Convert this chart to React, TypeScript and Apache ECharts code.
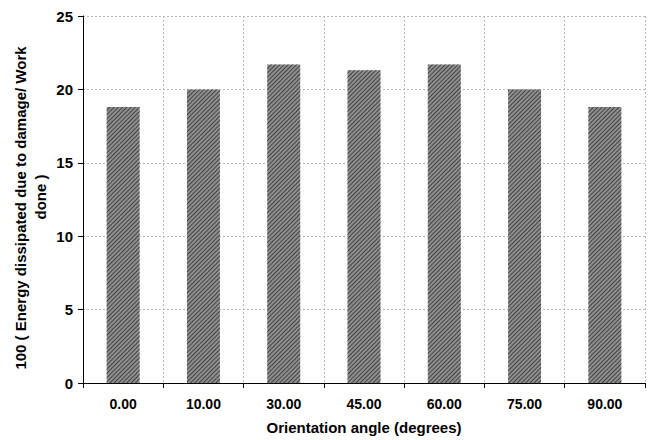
import React, { useEffect, useRef } from "react";
import * as echarts from "echarts";

const categories = ["0.00", "10.00", "30.00", "45.00", "60.00", "75.00", "90.00"];
const values = [18.8, 20.0, 21.7, 21.3, 21.7, 20.0, 18.8];
const yTicks = { min: 0, max: 25, interval: 5 };

const FONT = "'Liberation Sans', Arial, sans-serif";

export default function App() {
  const ref = useRef<HTMLDivElement>(null);

  useEffect(() => {
    if (!ref.current) return;
    const chart = echarts.init(ref.current, undefined, { renderer: "svg" });
    chart.setOption({
      animation: false,
      backgroundColor: "#ffffff",
      grid: { left: 83, right: 6, top: 16, bottom: 56, containLabel: false },
      xAxis: {
        type: "category",
        data: categories,
        boundaryGap: true,
        axisLine: { show: true, lineStyle: { color: "#000", width: 1 } },
        axisTick: { show: true, alignWithLabel: false, length: 5, inside: false, lineStyle: { color: "#000" } },
        axisLabel: { color: "#000", fontFamily: FONT, fontWeight: "bold", fontSize: 14, margin: 14 },
        splitLine: { show: true, lineStyle: { color: "#b8b8b8", type: [2, 2], width: 1 } },
        name: "Orientation angle (degrees)",
        nameLocation: "middle",
        nameGap: 37,
        nameTextStyle: { color: "#000", fontFamily: FONT, fontWeight: "bold", fontSize: 15 },
      },
      yAxis: {
        type: "value",
        min: yTicks.min,
        max: yTicks.max,
        interval: yTicks.interval,
        axisLine: { show: true, lineStyle: { color: "#000", width: 1 } },
        axisTick: { show: true, length: 5, lineStyle: { color: "#000" } },
        axisLabel: { color: "#000", fontFamily: FONT, fontWeight: "bold", fontSize: 15, margin: 10 },
        splitLine: { show: true, lineStyle: { color: "#b8b8b8", type: [2, 2], width: 1 } },
      },
      graphic: [
        {
          type: "text",
          x: 20,
          y: 208,
          rotation: Math.PI / 2,
          style: {
            text: "100 ( Energy dissipated due to damage/ Work",
            fill: "#000",
            font: `bold 15px ${FONT}`,
            textAlign: "center",
            textVerticalAlign: "middle",
          },
        },
        {
          type: "text",
          x: 40,
          y: 197,
          rotation: Math.PI / 2,
          style: {
            text: "done )",
            fill: "#000",
            font: `bold 15px ${FONT}`,
            textAlign: "center",
            textVerticalAlign: "middle",
          },
        },
      ],
      series: [
        {
          type: "bar",
          data: values,
          barWidth: "41%",
          itemStyle: {
            color: "#8e8e8e",
            decal: {
              symbol: "rect",
              color: "#444444",
              dashArrayX: [1, 0],
              dashArrayY: [1, 2],
              rotation: -Math.PI / 4,
              symbolSize: 1,
            },
          },
        },
      ],
    });
    return () => chart.dispose();
  }, []);

  return (
    <div
      ref={ref}
      style={{ position: "absolute", left: 0, top: 0, width: 651, height: 440 }}
    />
  );
}
